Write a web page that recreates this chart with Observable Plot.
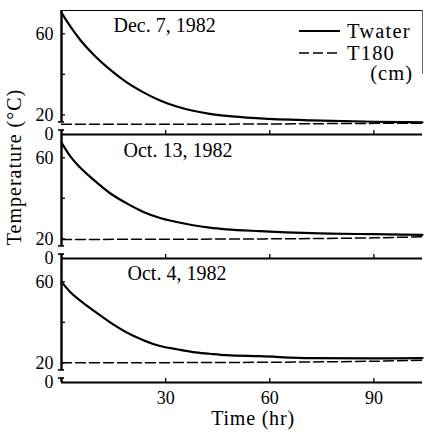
<!DOCTYPE html>
<html>
<head>
<meta charset="utf-8">
<script src="https://cdn.jsdelivr.net/npm/d3@7"></script>
<script src="https://cdn.jsdelivr.net/npm/@observablehq/plot@0.6"></script>
<style>
  html, body { margin: 0; padding: 0; background: #fff; }
  #chart { width: 424px; height: 432px; font-family: "Liberation Serif", "Times New Roman", serif; }
  #chart svg text { font-family: "Liberation Serif", "Times New Roman", serif; }
</style>
</head>
<body>
<div id="chart"></div>
<script>
// ---- data ----
const dates = ["Dec. 7, 1982", "Oct. 13, 1982", "Oct. 4, 1982"];
const hours = [0, 2.5, 5.3, 9.2, 14, 18.8, 23.6, 28.4, 33.2, 37.9, 42.7, 47.5, 57.1, 72, 90, 104];
const twaterDec7  = [70.4, 63.8, 57.2, 49.8, 42.3, 36.0, 31.1, 27.1, 24.1, 22.0, 20.5, 19.5, 18.3, 17.3, 16.6, 16.3];
const twaterOct13 = [67.5, 60.8, 55.3, 49.2, 42.5, 37.5, 33.3, 30.3, 28.3, 26.7, 25.5, 24.7, 23.8, 22.8, 22.3, 22.0];
const twaterOct4  = [60.0, 55.0, 50.8, 45.8, 40.0, 35.0, 31.2, 28.3, 26.7, 25.3, 24.5, 23.8, 23.3, 22.3, 22.2, 22.3];
const t180Hours = [0, 30, 60, 90, 104];
const t180Dec7  = [15.3, 15.3, 15.5, 15.8, 15.9];
const t180Oct13 = [19.7, 19.8, 20.0, 20.5, 21.0];
const t180Oct4  = [20.0, 20.1, 20.3, 20.8, 21.3];
const xTicks = [30, 60, 90];
const yTicks = [20, 40, 60];
const yTickLabels = ["20", "", "60"];
const yBaseLabel = "0";            // label shown at the broken axis baseline
const yDomain = [10.3, 71.5];
const xDomain = [0, 104];
const axisBreak = [12.5, 16.5];
const seriesNames = ["Twater", "T180"];
const unitNote = "(cm)";
const xTitle = "Time (hr)";
const yTitle = "Temperature (\u00B0C)";

// ---- tables built from the arrays ----
const waterByDate = [twaterDec7, twaterOct13, twaterOct4];
const t180ByDate = [t180Dec7, t180Oct13, t180Oct4];
const water = dates.flatMap((d, i) => hours.map((h, j) => ({date: d, t: h, v: waterByDate[i][j]})));
const t180 = dates.flatMap((d, i) => t180Hours.map((h, j) => ({date: d, t: h, v: t180ByDate[i][j]})));
const yLabelMap = new Map(yTicks.map((v, i) => [v, yTickLabels[i]]));
yLabelMap.set(yDomain[0], yBaseLabel);

// ---- layout ----
const W = 424, H = 432;
const mL = 61, mR = 2, mT = 10, mB = 50;
const frameW = W - mL - mR;
const panelH = (H - mT - mB) / dates.length;
const serif = "Liberation Serif, Times New Roman, serif";
const datePos = {"Dec. 7, 1982": [52, 21.7], "Oct. 13, 1982": [62, 22.7], "Oct. 4, 1982": [66, 21]};

const plot = Plot.plot({
  width: W, height: H,
  marginLeft: mL, marginRight: mR, marginTop: mT, marginBottom: mB,
  style: {fontFamily: serif, fontSize: "18px", color: "#000", background: "#fff", overflow: "visible"},
  x: {domain: xDomain},
  y: {domain: yDomain},
  fy: {domain: dates, padding: 0, axis: null},
  marks: [
    Plot.axisY({ticks: [yDomain[0], ...yTicks], tickFormat: d => yLabelMap.get(d), tickSize: 0, tickPadding: 8, label: null, fontSize: 18}),
    Plot.axisX({ticks: xTicks, tickSize: 0, tickPadding: 9, label: null, fontSize: 18}),
    Plot.ruleY(yTicks, {insetRight: frameW - 4, stroke: "#000", strokeWidth: 1.3}),
    Plot.ruleX(xTicks, {insetTop: panelH - 4, stroke: "#000", strokeWidth: 1.3}),
    Plot.ruleY([yDomain[1]], {stroke: "#000", strokeWidth: 1}),
    Plot.ruleX([xDomain[1]], {fy: () => dates[0], insetBottom: 60, stroke: "#666", strokeWidth: 1}),
    Plot.ruleY([yDomain[0]], {stroke: "#000", strokeWidth: 2.2}),
    Plot.ruleX([xDomain[0]], {y1: axisBreak[1], y2: yDomain[1], stroke: "#000", strokeWidth: 2.4}),
    Plot.ruleX([xDomain[0]], {y1: yDomain[0], y2: axisBreak[0], stroke: "#000", strokeWidth: 2.4}),
    Plot.ruleY(axisBreak, {insetRight: frameW - 6, dx: -3, stroke: "#000", strokeWidth: 1.6}),
    Plot.line(t180, {x: "t", y: "v", fy: "date", stroke: "#000", strokeWidth: 1.5, strokeDasharray: "10,4", curve: "monotone-x"}),
    Plot.line(water, {x: "t", y: "v", fy: "date", stroke: "#000", strokeWidth: 2.2, curve: "monotone-x"}),
    ...dates.map(d => Plot.text([d], {fy: d2 => d2, text: d2 => d2, frameAnchor: "top-left", textAnchor: "start", lineAnchor: "bottom",
      dx: datePos[d][0], dy: datePos[d][1], fontSize: 20, fill: "#000"}))
  ]
});

document.getElementById("chart").appendChild(plot);

// ---- legend and axis titles ----
const svg = d3.select(plot);
const g = svg.append("g").attr("font-family", serif).attr("fill", "#000").attr("text-anchor", "start");
g.append("line").attr("x1", 299).attr("x2", 340).attr("y1", 31).attr("y2", 31)
  .attr("stroke", "#000").attr("stroke-width", 2.2);
g.append("text").attr("x", 347).attr("y", 37.5).attr("font-size", 20.5).attr("text-anchor", "start").attr("letter-spacing", 1.2).text(seriesNames[0]);
g.append("line").attr("x1", 299).attr("x2", 340).attr("y1", 53).attr("y2", 53)
  .attr("stroke", "#000").attr("stroke-width", 1.5).attr("stroke-dasharray", "10,4");
g.append("text").attr("x", 347).attr("y", 60).attr("font-size", 20.5).attr("text-anchor", "start").attr("letter-spacing", 1.2).text(seriesNames[1]);
g.append("text").attr("x", 413).attr("y", 80).attr("font-size", 20.5).attr("text-anchor", "end").attr("letter-spacing", 1).text(unitNote);
g.append("text").attr("transform", "translate(21,167) rotate(-90)").attr("text-anchor", "middle")
  .attr("font-size", 20).attr("letter-spacing", 1).text(yTitle);
g.append("text").attr("x", 253).attr("y", 425).attr("text-anchor", "middle")
  .attr("font-size", 20).attr("letter-spacing", 0.8).text(xTitle);
</script>
</body>
</html>
